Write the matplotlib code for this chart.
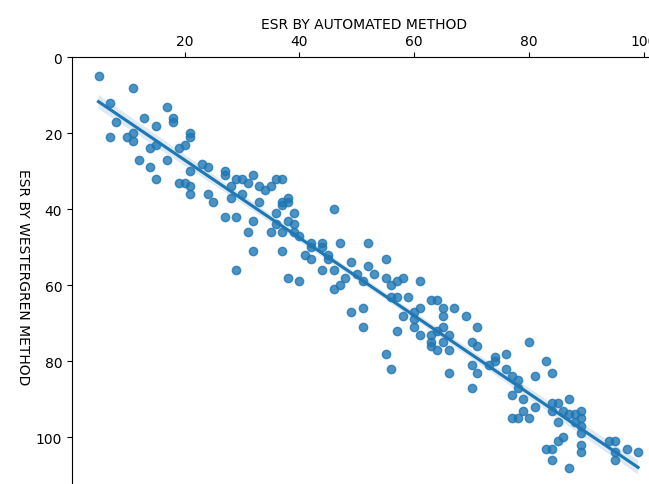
import numpy as np
import pandas as pd
import matplotlib
matplotlib.use('Agg')
import matplotlib.pyplot as plt
import seaborn as sns

# ESR values (mm/hr)
automated = [5, 11, 7, 17, 8, 13, 15, 18, 18, 7, 10, 11, 21, 21,
             11, 14, 15, 19, 20, 12, 14, 17, 15, 21, 23, 24, 19, 20, 21, 21, 24, 25,
             27, 27, 29, 30, 31, 32, 33, 34, 35, 36, 37, 28, 30, 28, 33, 38, 38, 37,
             37, 36, 39, 46, 27, 29, 32,
             31, 35, 36, 37, 38, 39, 39, 40, 42, 42, 41, 42, 44, 44, 45, 45, 47, 49,
             32, 37, 29, 38, 40, 44, 46, 48, 47, 46,
             52, 55, 52, 50, 53, 51, 55, 56, 57, 58, 61, 56, 57, 59, 63, 64, 65, 67,
             51, 61,
             49, 51, 58, 60, 65, 69, 60, 60, 57, 61, 63, 64, 65, 66, 63, 65, 63, 64,
             66, 71, 70, 71, 55, 56, 66, 70, 71, 73, 70,
             80, 76, 74, 74, 76, 77, 78, 83, 84, 81, 78,
             77, 79, 81, 79, 77, 78, 80, 84, 84, 85, 86, 87, 87, 88, 89, 88, 89, 89,
             89, 85, 86, 85, 84, 83, 89, 89, 94, 95, 95, 95, 97, 99, 84, 87]
westergren = [5, 8, 12, 13, 17, 16, 18, 16, 17, 21, 21, 20, 20, 21,
              22, 24, 23, 24, 23, 27, 29, 27, 32, 30, 28, 29, 33, 33, 34, 36, 36, 38,
              30, 31, 32, 32, 33, 31, 34, 35, 34, 32, 32, 34, 36, 37, 38, 37, 38, 38,
              39, 41, 41, 40, 42, 42, 43,
              46, 46, 44, 46, 43, 44, 46, 47, 49, 50, 52, 53, 49, 50, 52, 53, 49, 54,
              51, 51, 56, 58, 59, 56, 56, 58, 60, 61,
              49, 53, 55, 57, 57, 59, 58, 60, 59, 58, 59, 63, 63, 63, 64, 64, 66, 66,
              66, 66,
              67, 71, 68, 67, 68, 68, 69, 71, 72, 73, 73, 72, 71, 73, 75, 75, 76, 77,
              77, 71, 75, 76, 78, 82, 83, 81, 83, 81, 87,
              75, 78, 79, 80, 82, 84, 85, 80, 83, 84, 87,
              89, 90, 92, 93, 95, 95, 95, 91, 93, 91, 93, 90, 94, 94, 93, 96, 95, 97,
              99, 96, 100, 101, 103, 103, 102, 104, 101, 101, 104, 106, 103, 104, 106, 108]

xlabel = 'ESR BY AUTOMATED METHOD'
ylabel = 'ESR BY WESTERGREN METHOD'

df = pd.DataFrame({'auto': automated, 'wg': westergren})

fig = plt.figure(figsize=(6.49, 4.85), dpi=100)
# axes run past the right and bottom edges, like the cropped original
ax = fig.add_axes([72 / 649, -0.0212, 583.3 / 649, 0.9010])

sns.regplot(x='auto', y='wg', data=df, ax=ax, seed=0)

ax.set_xlim(0.38, 102)
ax.set_ylim(115, 0)
ax.set_xticks([20, 40, 60, 80, 100])
ax.set_yticks([0, 20, 40, 60, 80, 100])
ax.xaxis.tick_top()
ax.xaxis.set_label_position('top')
ax.set_xlabel(xlabel, fontsize=10)
ax.set_ylabel(ylabel, fontsize=10, rotation=270, labelpad=14)

fig.savefig('out.png', dpi=100)
